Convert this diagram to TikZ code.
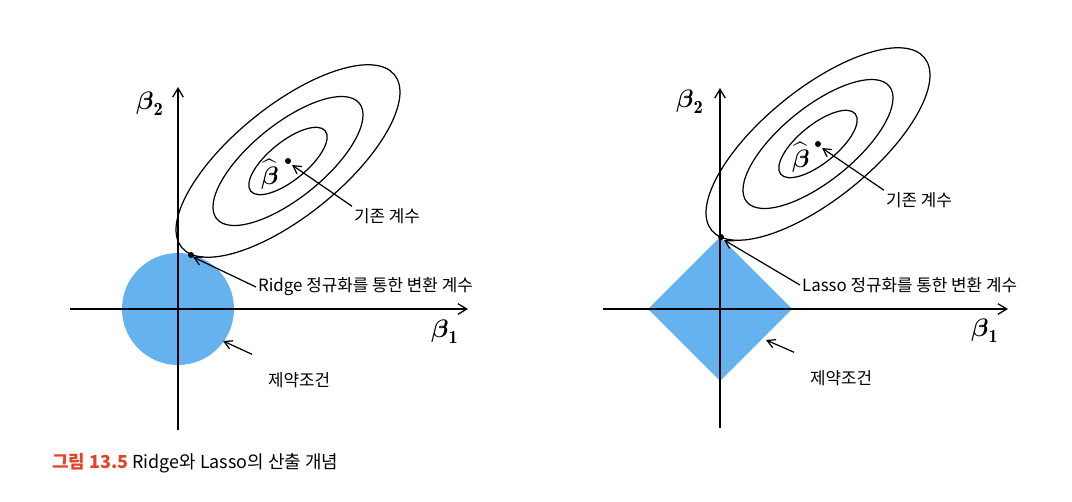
\documentclass[tikz,border=0pt]{standalone}
\usepackage{amsmath}
\usepackage{fontspec}
\newfontfamily\kr{Noto Sans CJK KR}
\usetikzlibrary{arrows.meta}
\definecolor{constr}{HTML}{66B2EE}
\definecolor{capred}{HTML}{E0452B}
\tikzset{
  axis/.style={line width=0.75pt, -{Straight Barb[length=5pt,width=6pt]}},
  pointer/.style={line width=0.7pt, -{Straight Barb[length=4.5pt,width=5pt]}},
  contour/.style={line width=0.7pt},
  lbl/.style={font=\kr\fontsize{9.6}{11}\selectfont, inner sep=1pt},
  betalbl/.style={font=\fontsize{15}{17}\selectfont}
}
\begin{document}
\begin{tikzpicture}[x=0.02cm, y=-0.02cm]
  \useasboundingbox (0,0) rectangle (1072,501);

  % Ridge
  \coordinate (oL) at (178,309);
  \coordinate (cL) at (288,161);
  \coordinate (tanL) at (191,255);
  \fill[constr] (oL) circle (56);
  \draw[axis] (70,309) -- (468,309);
  \draw[axis] (178,430) -- (178,87);
  \node[betalbl] (b2L) at (150,104) {$\boldsymbol{\beta}_{\mathbf 2}$};
  \node[betalbl] (b1L) at (445,332) {$\boldsymbol{\beta}_{\mathbf 1}$};
  \foreach \s in {1,0.67,0.35}
    \draw[contour, rotate around={39:(cL)}] (cL) ellipse ({137*\s} and {55*\s});
  \fill (cL) circle (3);
  \fill (tanL) circle (3);
  \node[betalbl, font=\fontsize{14}{16}\selectfont] (bhL) at (270,174) {$\widehat{\boldsymbol{\beta}}$};
  \node[lbl, anchor=west] (olsL) at (352,216) {기존 계수};
  \node[lbl, anchor=west] (ridge) at (256,287) {Ridge 정규화를 통한 변환 계수};
  \node[lbl, anchor=west] (conL) at (266,380) {제약조건};
  \draw[pointer] (olsL.north west) -- ([shift={(4,4)}]cL);
  \draw[pointer] (ridge.west) -- ([shift={(2,2)}]tanL);
  \draw[pointer] ([shift={(-14,-16)}]conL.north west) -- (223,341);

  % Lasso
  \coordinate (oR) at (720,309);
  \coordinate (cR) at (818,144);
  \coordinate (tanR) at (721,237);
  \fill[constr] (720,237) -- (792,309) -- (720,381) -- (648,309) -- cycle;
  \draw[axis] (603,309) -- (1008,309);
  \draw[axis] (720,428) -- (720,88);
  \node[betalbl] (b2R) at (690,102) {$\boldsymbol{\beta}_{\mathbf 2}$};
  \node[betalbl] (b1R) at (985,331) {$\boldsymbol{\beta}_{\mathbf 1}$};
  \foreach \s in {1,0.67,0.35}
    \draw[contour, rotate around={39:(cR)}] (cR) ellipse ({137*\s} and {55*\s});
  \fill (cR) circle (3);
  \fill (tanR) circle (3);
  \node[betalbl, font=\fontsize{14}{16}\selectfont] (bhR) at (801,157) {$\widehat{\boldsymbol{\beta}}$};
  \node[lbl, anchor=west] (olsR) at (884,200) {기존 계수};
  \node[lbl, anchor=west] (lasso) at (800,285) {Lasso 정규화를 통한 변환 계수};
  \node[lbl, anchor=west] (conR) at (808,378) {제약조건};
  \draw[pointer] (olsR.north west) -- ([shift={(4,4)}]cR);
  \draw[pointer] (lasso.west) -- ([shift={(3,3)}]tanR);
  \draw[pointer] ([shift={(-14,-16)}]conR.north west) -- (766,340);

  % caption
  \node[anchor=west, inner sep=0pt, font=\kr\fontsize{10.2}{12}\selectfont] (cap) at (52,463)
    {\textcolor{capred}{\textbf{그림 13.5}} Ridge와 Lasso의 산출 개념};
\end{tikzpicture}
\end{document}
